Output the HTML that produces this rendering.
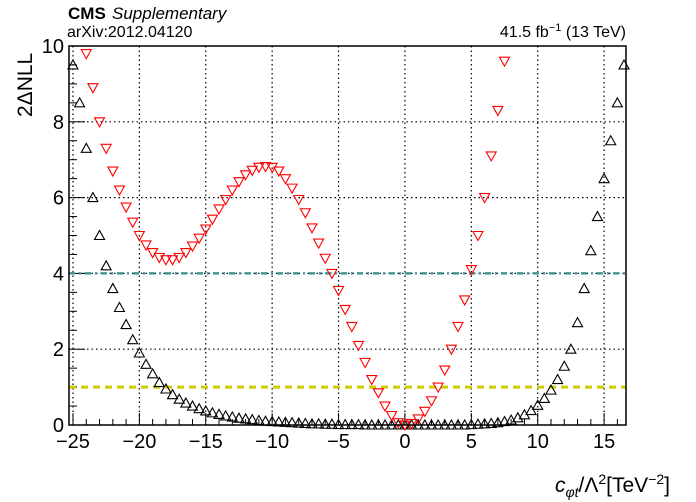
<!DOCTYPE html>
<html><head><meta charset="utf-8">
<style>
body{margin:0;background:#fff;}
svg{display:block;font-family:"Liberation Sans",Arial,sans-serif;}
</style></head>
<body>
<svg id="chart" width="696" height="502" viewBox="0 0 696 502">
  <text x="68" y="19" font-size="17" font-weight="bold">CMS</text>
  <text x="112" y="19" font-size="17" font-style="italic">Supplementary</text>
  <text x="67" y="37" font-size="16">arXiv:2012.04120</text>
  <text x="626" y="37" font-size="16" text-anchor="end">41.5 fb<tspan dy="-6" font-size="11">−1</tspan><tspan dy="6"> (13 TeV)</tspan></text>
  <text transform="translate(32,117) rotate(-90)" font-size="21">2ΔNLL</text>
  <text x="670" y="492" font-size="21" text-anchor="end"><tspan font-style="italic">c</tspan><tspan font-style="italic" font-size="14" dy="5">φt</tspan><tspan dy="-5">/Λ</tspan><tspan dy="-8" font-size="14">2</tspan><tspan dy="8">[TeV</tspan><tspan dy="-8" font-size="14">−2</tspan><tspan dy="8">]</tspan></text>
  <g id="grid"></g>
  <g id="axes"></g>
  <g id="lines"></g>
  <g id="marks"></g>
  <rect x="69" y="46" width="557" height="379" fill="none" stroke="#000" stroke-width="1.5"/>
</svg>
<script>
const xTicks = [-25, -20, -15, -10, -5, 0, 5, 10, 15];
const yTicks = [0, 2, 4, 6, 8, 10];
const thresholds = [4, 1];
const blackX = [-25,-24.5,-24,-23.5,-23,-22.5,-22,-21.5,-21,-20.5,-20,-19.5,-19,-18.5,-18,-17.5,-17,-16.5,-16,-15.5,-15,-14.5,-14,-13.5,-13,-12.5,-12,-11.5,-11,-10.5,-10,-9.5,-9,-8.5,-8,-7.5,-7,-6.5,-6,-5.5,-5,-4.5,-4,-3.5,-3,-2.5,-2,-1.5,-1,-0.5,0,0.5,1,1.5,2,2.5,3,3.5,4,4.5,5,5.5,6,6.5,7,7.5,8,8.5,9,9.5,10,10.5,11,11.5,12,12.5,13,13.5,14,14.5,15,15.5,16,16.5];
const blackY = [9.5,8.5,7.3,6.0,5.0,4.2,3.6,3.1,2.65,2.25,1.9,1.6,1.35,1.12,0.95,0.8,0.68,0.58,0.5,0.43,0.37,0.32,0.28,0.24,0.21,0.18,0.16,0.14,0.12,0.1,0.09,0.08,0.07,0.06,0.05,0.04,0.03,0.03,0.02,0.02,0.01,0.01,0.01,0.01,0,0,0,0,0,0,0,0,0,0,0,0,0,0,0,0,0.01,0.02,0.03,0.04,0.06,0.09,0.13,0.19,0.27,0.38,0.52,0.7,0.92,1.2,1.55,2.0,2.7,3.6,4.6,5.5,6.5,7.5,8.5,9.5];
const redX = [-24,-23.5,-23,-22.5,-22,-21.5,-21,-20.5,-20,-19.5,-19,-18.5,-18,-17.5,-17,-16.5,-16,-15.5,-15,-14.5,-14,-13.5,-13,-12.5,-12,-11.5,-11,-10.5,-10,-9.5,-9,-8.5,-8,-7.5,-7,-6.5,-6,-5.5,-5,-4.5,-4,-3.5,-3,-2.5,-2,-1.5,-1,-0.5,0,0.5,1,1.5,2,2.5,3,3.5,4,4.5,5,5.5,6,6.5,7,7.5];
const redY = [9.8,8.9,8.0,7.3,6.7,6.2,5.75,5.35,5.0,4.75,4.55,4.42,4.36,4.36,4.42,4.55,4.72,4.93,5.17,5.43,5.7,5.95,6.2,6.42,6.6,6.72,6.8,6.82,6.8,6.7,6.5,6.25,5.95,5.6,5.2,4.8,4.4,4.0,3.55,3.05,2.6,2.1,1.65,1.2,0.85,0.5,0.25,0.06,0,0.04,0.16,0.36,0.64,1.0,1.45,2.0,2.6,3.3,4.1,5.0,6.0,7.1,8.3,9.6];

const NS = "http://www.w3.org/2000/svg";
const L = 69, R = 626, T = 46, B = 425;
const xMin = -25.3, xMax = 16.65, yMin = 0, yMax = 10;
function sx(v){ return L + (v - xMin) / (xMax - xMin) * (R - L); }
function sy(v){ return B - (v - yMin) / (yMax - yMin) * (B - T); }
function mk(tag, attrs, parent){
  const e = document.createElementNS(NS, tag);
  for (const k in attrs) e.setAttribute(k, attrs[k]);
  parent.appendChild(e); return e;
}
const grid = document.getElementById('grid');
const axes = document.getElementById('axes');
xTicks.forEach(v => {
  const g = mk('line', {x1:sx(v), x2:sx(v), y1:T, y2:B, stroke:'#000', 'stroke-dasharray':'1.5,3', 'stroke-width':1.2}, grid);
  
  
  const t = mk('line', {x1:sx(v), x2:sx(v), y1:B, y2:B-12, stroke:'#000'}, axes);
  
  
  const lb = mk('text', {x:sx(v), y:B+23, 'font-size':20, 'text-anchor':'middle'}, axes);
  lb.textContent = v < 0 ? '−' + Math.abs(v) : String(v);
  
  
});
for (let v = -25; v <= 16; v++) {
  if (v % 5 === 0) continue;
  const t = mk('line', {x1:sx(v), x2:sx(v), y1:B, y2:B-6, stroke:'#000'}, axes);
  
  
}
yTicks.forEach(v => {
  if (v > 0 && v < 10) {
    const g = mk('line', {x1:L, x2:R, y1:sy(v), y2:sy(v), stroke:'#000', 'stroke-dasharray':'1.5,3', 'stroke-width':1.2}, grid);
    
    
  }
  const t = mk('line', {x1:L, x2:L+16, y1:sy(v), y2:sy(v), stroke:'#000'}, axes);
  
  
  const lb = mk('text', {x:L-5, y:sy(v)+7, 'font-size':20, 'text-anchor':'end'}, axes);
  lb.textContent = String(v);
  
  
});
for (let v = 0.5; v < 10; v += 0.5) {
  if (v % 2 === 0) continue;
  const t = mk('line', {x1:L, x2:L+8, y1:sy(v), y2:sy(v), stroke:'#000'}, axes);
  
  
}
const lines = document.getElementById('lines');
const l4 = mk('line', {x1:L, x2:R, y1:sy(thresholds[0]), y2:sy(thresholds[0]), stroke:'#3d9a98', 'stroke-width':2.5, 'stroke-dasharray':'6,4,2,4'}, lines);


const l1 = mk('line', {x1:L, x2:R, y1:sy(thresholds[1]), y2:sy(thresholds[1]), stroke:'#cccc00', 'stroke-width':3, 'stroke-dasharray':'7,5'}, lines);



const marks = document.getElementById('marks');
blackX.forEach((x, i) => {
  const px = sx(x), py = sy(blackY[i]);
  const p = mk('polygon', {points:`${px-5},${py+4} ${px+5},${py+4} ${px},${py-5}`, fill:'none', stroke:'#000', 'stroke-width':1.1}, marks);
  
  
});
redX.forEach((x, i) => {
  const px = sx(x), py = sy(redY[i]);
  const p = mk('polygon', {points:`${px-5},${py-4} ${px+5},${py-4} ${px},${py+5}`, fill:'none', stroke:'#f00', 'stroke-width':1.1}, marks);
  
  
});
</script>
</body></html>
